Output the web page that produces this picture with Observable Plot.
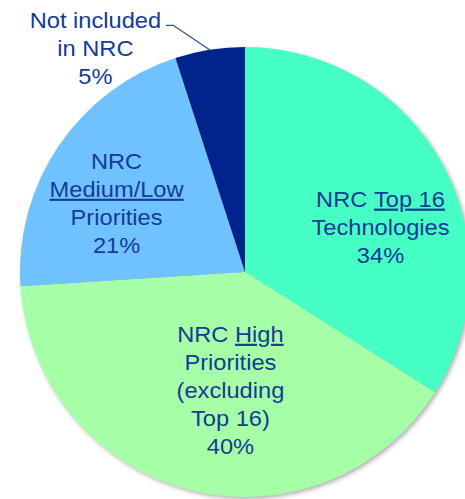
<!DOCTYPE html>
<html><head><meta charset="utf-8">
<script src="https://cdn.jsdelivr.net/npm/d3@7"></script>
<script src="https://cdn.jsdelivr.net/npm/@observablehq/plot@0.6"></script>
<style>html,body{margin:0;padding:0;background:#fff;overflow:hidden}</style>
</head><body><div id="chart"></div>
<script>
// ---- data ----
const categories = ["NRC Top 16 Technologies", "NRC High Priorities (excluding Top 16)", "NRC Medium/Low Priorities", "Not included in NRC"];
const shares = [34, 40, 21, 5];
const labelTexts = ["NRC Top 16\nTechnologies", "NRC High\nPriorities\n(excluding\nTop 16)", "NRC\nMedium/Low\nPriorities", "Not included\nin NRC"];
const underlinedWords = ["Top 16", "High", "Medium/Low", null];
const colors = ["#46FFC4", "#A6FFA6", "#70C2FF", "#00238C"];

// ---- layout (unit-circle coordinates) ----
const labelAt = [[0.600, 0.208], [-0.067, -0.517], [-0.573, 0.314], [-0.667, 1.003]];
const leaderStart = [[-0.351, 1.098], [-0.320, 1.098]];
const textColor = "#153B97";

const data = categories.map((c, i) => ({category: c, share: shares[i], color: colors[i]}));
const arcs = d3.pie().sort(null).value(d => d.share)(data);
const labels = data.map((d, i) => ({
  text: labelTexts[i] + "\n" + d.share + "%",
  x: labelAt[i][0], y: labelAt[i][1]
}));
const last = arcs[3];
const mid = (last.startAngle + last.endAngle) / 2;
const leader = [...leaderStart, [Math.sin(mid), Math.cos(mid)]];

function pieMark(index, scales) {
  const cx = scales.x(0), cy = scales.y(0), r = scales.x(1) - scales.x(0);
  const arc = d3.arc().innerRadius(0).outerRadius(r);
  const g = d3.create("svg:g")
    .attr("transform", `translate(${cx},${cy})`)
    .style("filter", "drop-shadow(2px 2px 2px rgba(0,0,0,0.3))");
  g.selectAll("path").data(arcs).join("path")
    .attr("d", arc).attr("fill", d => d.data.color);
  return g.node();
}

const svg = Plot.plot({
  width: 465, height: 499,
  margin: 0,
  x: {domain: [-1, 1], range: [20, 470], axis: null},
  y: {domain: [-1, 1], range: [497, 47], axis: null},
  style: {fontFamily: "'Liberation Sans', Arial, sans-serif", background: "transparent"},
  marks: [
    pieMark,
    Plot.line(leader, {x: d => d[0], y: d => d[1], stroke: "#2E4E9E", strokeWidth: 1.2}),
    Plot.text(labels, {x: "x", y: "y", text: "text", fontSize: 21.5, lineHeight: 1.3, fill: textColor, textAnchor: "middle"})
  ]
});

const textEls = svg.querySelectorAll('g[aria-label="text"] text');
textEls.forEach((t, i) => {
  // slight horizontal stretch, as in the reference rendering
  const tr = t.getAttribute("transform");
  if (tr) t.setAttribute("transform", tr + " scale(1.1,1)");
  else {
    const x = +t.getAttribute("x") || 0, y = +t.getAttribute("y") || 0;
    t.setAttribute("transform", `translate(${x},${y}) scale(1.1,1) translate(${-x},${-y})`);
  }
  const word = underlinedWords[i];
  if (!word) return;
  const spans = t.querySelectorAll("tspan");
  const targets = spans.length ? spans : [t];
  for (const s of targets) {
    const str = s.textContent;
    const k = str.indexOf(word);
    if (k < 0) continue;
    s.textContent = "";
    if (k > 0) s.appendChild(document.createTextNode(str.slice(0, k)));
    const u = document.createElementNS("http://www.w3.org/2000/svg", "tspan");
    u.setAttribute("text-decoration", "underline");
    u.style.textDecoration = "underline";
    u.textContent = word;
    s.appendChild(u);
    const rest = str.slice(k + word.length);
    if (rest) s.appendChild(document.createTextNode(rest));
    break;
  }
});
document.getElementById("chart").appendChild(svg);
</script>
</body></html>
